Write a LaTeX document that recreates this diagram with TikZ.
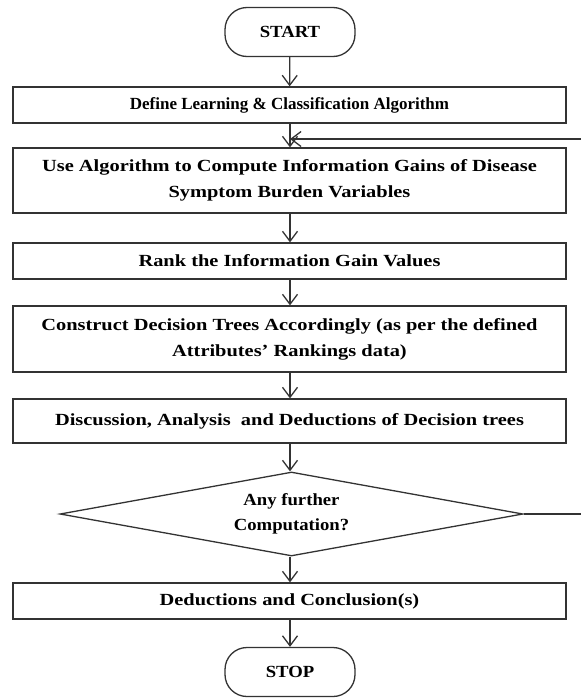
\documentclass[tikz,border=0pt]{standalone}
\usepackage{fontspec}
\setmainfont{Liberation Serif}
\newfontfamily\widefont[FakeStretch=1.2]{Liberation Serif}
\newfontfamily\midfont[FakeStretch=1.1]{Liberation Serif}
\usetikzlibrary{shapes.geometric,arrows.meta}
\begin{document}
\begin{tikzpicture}[x=1pt,y=-1pt,
  every node/.style={font=\widefont\bfseries\fontsize{17}{26}\selectfont, text=black},
  plain/.style={font=\bfseries\fontsize{17}{26}\selectfont},
  middle/.style={font=\midfont\bfseries\fontsize{17}{25}\selectfont},
  proc/.style={draw=black!80, line width=1.3pt, minimum width=553pt, align=center, inner sep=0pt},
  term/.style={draw=black!80, line width=1.3pt, rounded corners=22pt, minimum width=130pt, minimum height=49pt, inner sep=0pt},
  dec/.style={draw=black!80, line width=1.3pt, diamond, aspect=5.5, minimum width=463pt, minimum height=84pt, align=center, inner sep=0pt},
  flow/.style={draw=black!80, line width=1.3pt, -{Straight Barb[length=10pt,width=15pt,line width=1.3pt]}}]
\useasboundingbox (0,0) rectangle (581,699);
\node[term, middle] (start) at (290,32) {START};
\node[proc, plain, minimum height=36pt] (b1) at (289.5,105) {Define Learning \& Classification Algorithm};
\node[proc, minimum height=65pt] (b2) at (289.5,180.5) {Use Algorithm to Compute Information Gains of Disease\\Symptom Burden Variables};
\node[proc, minimum height=36pt] (b3) at (289.5,261) {Rank the Information Gain Values};
\node[proc, minimum height=66pt] (b4) at (289.5,339) {Construct Decision Trees Accordingly (as per the defined\\Attributes’ Rankings data)};
\node[proc, minimum height=44pt] (b5) at (289.5,421) {Discussion, Analysis\ \ and Deductions of Decision trees};
\node[dec, middle] (d) at (291.5,514) {Any further\\Computation?};
\node[proc, minimum height=36pt] (b6) at (289.5,601) {Deductions and Conclusion(s)};
\node[term, middle] (stop) at (290,672) {STOP};
\coordinate (m) at (290,139);
\coordinate (r1) at (583,514);
\coordinate (r2) at (583,139);
\draw[flow] (start) -- (b1);
\draw[flow] (b1.south -| start) -- (b2.north -| start);
\draw[flow] (b2.south -| start) -- (b3.north -| start);
\draw[flow] (b3.south -| start) -- (b4.north -| start);
\draw[flow] (b4.south -| start) -- (b5.north -| start);
\draw[flow] (b5.south -| start) -- (d.north -| start);
\draw[flow] (d.south -| start) -- (b6.north -| start);
\draw[flow] (b6.south -| start) -- (stop);
\draw[flow] (d.east) -- (r1) -- (r2) -- (m);
\end{tikzpicture}
\end{document}
